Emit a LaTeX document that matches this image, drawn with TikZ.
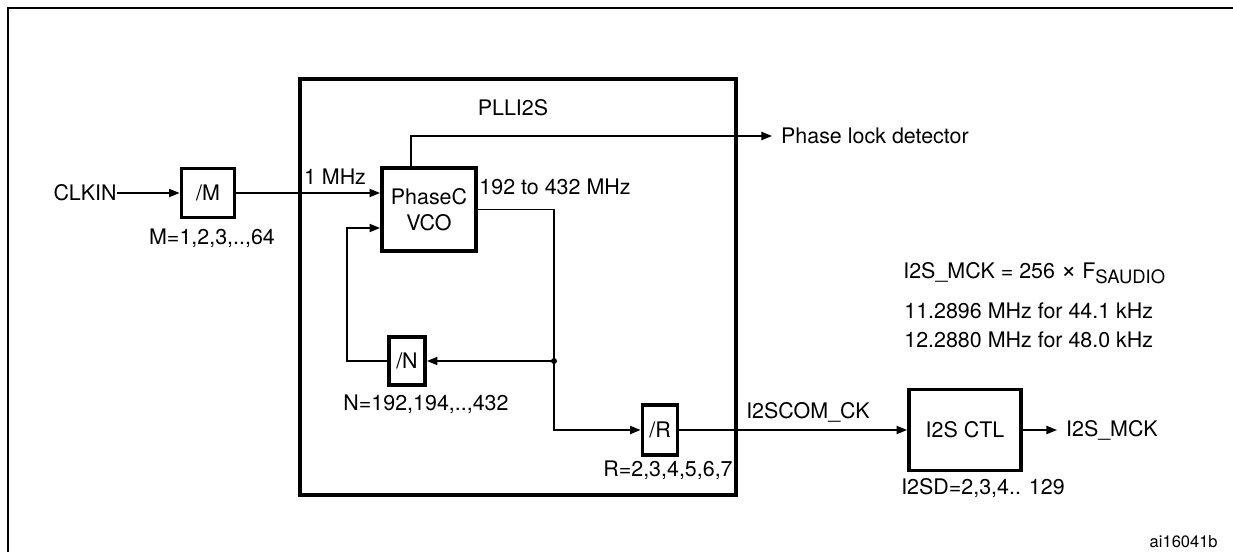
\documentclass[tikz,border=0pt]{standalone}
\usepackage{fontspec}
\setmainfont{TeX Gyre Heros}
\usetikzlibrary{arrows.meta}

\begin{document}
\begin{tikzpicture}[x=0.02cm,y=-0.02cm,font=\fontsize{12.2}{14.5}\selectfont,
  blk/.style={draw,line width=2.2pt,inner sep=0pt,align=center},
  wire/.style={line width=0.95pt},
  arr/.style={wire,-{Triangle[length=6pt,width=4.6pt]}},
  endlbl/.style={inner ysep=0pt,inner xsep=5pt}]
\useasboundingbox (0,0) rectangle (1233,551);
\draw[line width=1.7pt] (8,560) -- (8,8) -- (1240,8);

\node[draw,line width=2.2pt,minimum width=8.72cm,minimum height=8.32cm] (pll) at (518,287) {};
\node (plllbl) at (513,108) {PLLI2S};

\node[inner sep=0pt,anchor=east] (clkin) at (117,193) {CLKIN};
\node[blk,minimum width=1.06cm,minimum height=0.98cm] (divm) at (208,193) {/M};
\node[blk,minimum width=1.88cm,minimum height=1.66cm] (vco) at (429,209.5) {PhaseC\\VCO};
\node[blk,minimum width=0.72cm,minimum height=0.96cm] (divn) at (407,361) {/N};
\node[blk,minimum width=0.70cm,minimum height=1.00cm] (divr) at (660,430) {/R};
\node[blk,minimum width=2.24cm,minimum height=1.62cm] (ctl) at (965,430) {I2S CTL};
\node[endlbl,anchor=west] (pld) at (772,136) {Phase lock detector};
\node[endlbl,anchor=west] (mck) at (1057,430) {I2S\_MCK};
\coordinate (jn) at (554,361);
\coordinate (fb) at (347,228);

\draw[arr] (clkin.east) -- (divm.west);
\draw[arr] (divm.east) -- (divm.east -| vco.west);
\draw[arr] ([xshift=-0.36cm]vco.north) |- (pld.west);
\draw[arr] (vco.east) -| (jn) |- (divr.west);
\draw[arr] (jn) -- (divn.east);
\fill (jn) circle[radius=1.7pt];
\draw[arr] (divn.west) -| (fb) -- (fb -| vco.west);
\draw[arr] (divr.east) -- (ctl.west);
\draw[arr] (ctl.east) -- (mck.west);

\node (mlbl) at (212,238) {M=1,2,3,..,64};
\node (mhzlbl) at (335,177) {1 MHz};
\node (vcolbl) at (555,187) {192 to 432 MHz};
\node (nlbl) at (426,404) {N=192,194,..,432};
\node (rlbl) at (668,470) {R=2,3,4,5,6,7};
\node (comlbl) at (808,412) {I2SCOM\_CK};
\node (dlbl) at (983,488) {I2SD=2,3,4.. 129};
\node[inner sep=0pt,anchor=west] (eq) at (903,273) {I2S\_MCK = 256 {\fontsize{15}{15}\selectfont ×} F\raisebox{-0.4ex}{\fontsize{10.5}{12}\selectfont SAUDIO}};
\node[inner sep=0pt,anchor=west] (f441) at (904,311) {11.2896 MHz for 44.1 kHz};
\node[inner sep=0pt,anchor=west] (f480) at (904,340) {12.2880 MHz for 48.0 kHz};
\node[inner sep=0pt,anchor=east,font=\fontsize{9.4}{11}\selectfont] (ref) at (1218,542) {ai16041b};
\end{tikzpicture}
\end{document}
